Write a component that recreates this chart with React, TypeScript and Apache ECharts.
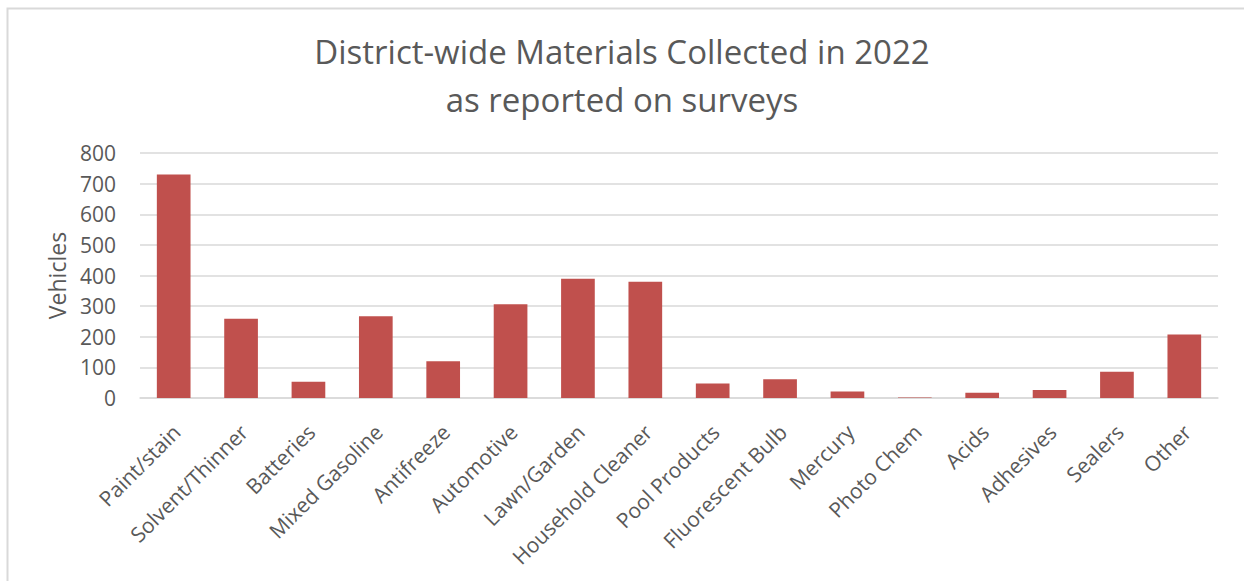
import React, { useEffect, useRef } from "react";
import * as echarts from "echarts";

const categories = [
  "Paint/stain",
  "Solvent/Thinner",
  "Batteries",
  "Mixed Gasoline",
  "Antifreeze",
  "Automotive",
  "Lawn/Garden",
  "Household Cleaner",
  "Pool Products",
  "Fluorescent Bulb",
  "Mercury",
  "Photo Chem",
  "Acids",
  "Adhesives",
  "Sealers",
  "Other",
];
const vehicles = [730, 259, 53, 267, 120, 306, 389, 380, 47, 61, 21, 2, 17, 26, 86, 207];
const yTicks = [0, 100, 200, 300, 400, 500, 600, 700, 800];

const FONT = "'Open Sans', sans-serif";
const TEXT = "#595959";

export default function App() {
  const ref = useRef<HTMLDivElement>(null);
  useEffect(() => {
    if (!ref.current) return;
    const chart = echarts.init(ref.current, undefined, { renderer: "svg" });
    chart.setOption({
      animation: false,
      backgroundColor: "#ffffff",
      title: {
        text: "District-wide Materials Collected in 2022\nas reported on surveys",
        left: "center",
        top: 22,
        textStyle: {
          fontFamily: FONT,
          fontSize: 33,
          fontWeight: "normal",
          color: TEXT,
          lineHeight: 48,
        },
      },
      graphic: [
        {
          type: "rect",
          shape: { x: 7.5, y: 8.5, width: 1300, height: 700 },
          style: { fill: "none", stroke: "#d9d9d9", lineWidth: 2 },
          silent: true,
          z: -1,
        },
      ],
      grid: { left: 140, right: 26, top: 153, bottom: 183, containLabel: false },
      xAxis: {
        type: "category",
        data: categories,
        axisLine: { show: true, lineStyle: { color: "#d9d9d9", width: 1.5 } },
        axisTick: { show: false },
        axisLabel: {
          rotate: 45,
          interval: 0,
          margin: 33,
          padding: [0, -4, 0, 0],
          fontFamily: FONT,
          fontSize: 21,
          color: TEXT,
        },
      },
      yAxis: {
        type: "value",
        min: yTicks[0],
        max: yTicks[yTicks.length - 1],
        interval: 100,
        name: "Vehicles",
        nameLocation: "middle",
        nameGap: 72,
        nameTextStyle: { fontFamily: FONT, fontSize: 23, color: TEXT },
        axisLine: { show: false },
        axisTick: { show: false },
        splitLine: { lineStyle: { color: "#d9d9d9", width: 1.5 } },
        axisLabel: {
          fontFamily: FONT,
          fontSize: 21,
          color: TEXT,
          margin: 24,
        },
      },
      series: [
        {
          type: "bar",
          data: vehicles,
          barCategoryGap: "50%",
          itemStyle: { color: "#C0504D" },
        },
      ],
    });
    return () => chart.dispose();
  }, []);
  return (
    <div
      ref={ref}
      style={{ position: "fixed", left: 0, top: 0, width: 1244, height: 581 }}
    />
  );
}
